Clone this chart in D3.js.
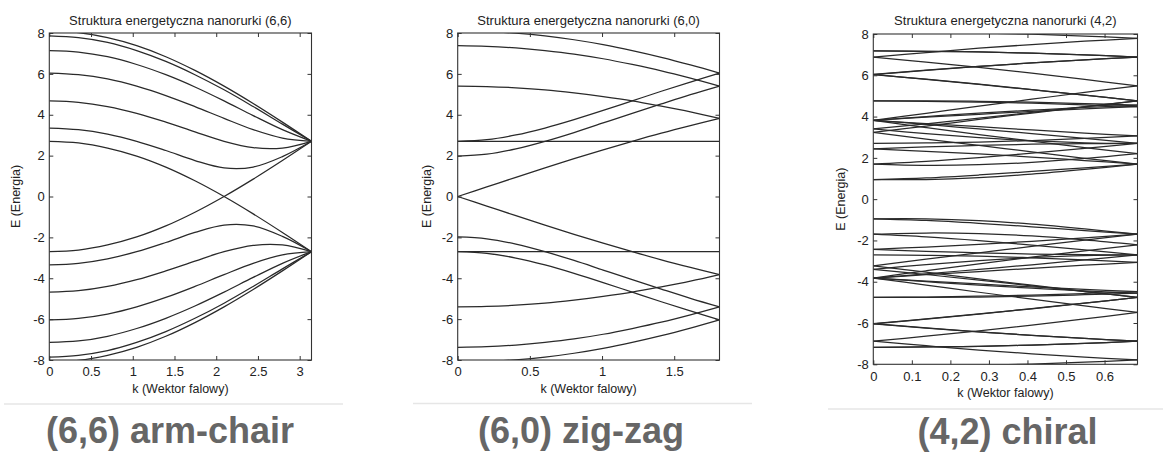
<!DOCTYPE html>
<html>
<head>
<meta charset="utf-8">
<script src="https://cdn.jsdelivr.net/npm/d3@7"></script>
<style>
    body { margin: 0; background: #fff; }
    svg { display: block; }
</style>
</head>
<body>
<div id="chart"></div>
<script>
// energy bands (positive half, eV); the lower half is the mirror image
const armK = [0, 0.349, 0.698, 1.047, 1.396, 1.745, 2.094, 2.443, 2.793, 3.1416];
const armBands = [
    [8.10, 8.02, 7.77, 7.38, 6.84, 6.17, 5.40, 4.55, 3.64, 2.70],
    [7.86, 7.77, 7.54, 7.14, 6.61, 5.96, 5.22, 4.40, 3.54, 2.70],
    [7.14, 7.07, 6.84, 6.46, 5.96, 5.36, 4.68, 3.96, 3.27, 2.70],
    [6.04, 5.96, 5.75, 5.40, 4.94, 4.40, 3.82, 3.27, 2.86, 2.70],
    [4.68, 4.61, 4.40, 4.07, 3.64, 3.16, 2.70, 2.39, 2.37, 2.70],
    [3.35, 3.27, 3.05, 2.70, 2.25, 1.76, 1.40, 1.44, 1.95, 2.70],
    [2.70, 2.62, 2.37, 1.98, 1.44, 0.77, 0.00, -0.85, -1.76, -2.70]
];

const zigK = [0, 0.2015, 0.4031, 0.6046, 0.8061, 1.0077, 1.2092, 1.4107, 1.6122, 1.8138];
const zigBands = [
    [8.10, 8.07, 7.99, 7.86, 7.67, 7.43, 7.14, 6.81, 6.44, 6.04],
    [7.38, 7.35, 7.27, 7.14, 6.97, 6.74, 6.46, 6.15, 5.79, 5.40],
    [5.40, 5.38, 5.32, 5.22, 5.07, 4.89, 4.68, 4.42, 4.14, 3.82],
    [2.70, 2.70, 2.70, 2.70, 2.70, 2.70, 2.70, 2.70, 2.70, 2.70],
    [0.00, 0.47, 0.94, 1.40, 1.85, 2.28, 2.70, 3.10, 3.47, 3.82],
    [1.98, 2.07, 2.33, 2.70, 3.13, 3.60, 4.07, 4.53, 4.98, 5.40],
    [2.70, 2.78, 3.01, 3.35, 3.76, 4.21, 4.68, 5.15, 5.60, 6.04]
];

const chiK = [0, 0.1371, 0.2742, 0.4113, 0.5484, 0.6855];
const chiBands = [
    [8.10, 8.09, 8.05, 7.99, 7.90, 7.79],
    [7.18, 7.16, 7.13, 7.07, 6.99, 6.88],
    [4.76, 4.74, 4.70, 4.65, 4.57, 4.48],
    [2.43, 2.32, 2.19, 2.04, 1.87, 1.70],
    [3.82, 3.62, 3.40, 3.18, 2.94, 2.70],
    [6.03, 5.80, 5.56, 5.30, 5.04, 4.76],
    [6.88, 6.64, 6.38, 6.10, 5.80, 5.49],
    [6.04, 5.81, 5.57, 5.31, 5.04, 4.76],
    [3.82, 3.66, 3.51, 3.35, 3.20, 3.06],
    [0.95, 0.95, 1.04, 1.21, 1.44, 1.70],
    [1.70, 1.64, 1.67, 1.78, 1.97, 2.21],
    [3.40, 3.17, 2.98, 2.83, 2.73, 2.70],
    [3.82, 3.47, 3.13, 2.81, 2.50, 2.21],
    [3.23, 2.91, 2.60, 2.29, 1.98, 1.70],
    [2.70, 2.72, 2.76, 2.84, 2.94, 3.06],
    [3.23, 3.54, 3.86, 4.17, 4.47, 4.76],
    [3.82, 4.16, 4.51, 4.84, 5.17, 5.49],
    [3.40, 3.65, 3.92, 4.20, 4.48, 4.76],
    [1.70, 1.83, 2.01, 2.23, 2.46, 2.70],
    [0.95, 1.03, 1.17, 1.34, 1.52, 1.70],
    [3.82, 3.97, 4.11, 4.25, 4.37, 4.48],
    [6.04, 6.25, 6.43, 6.60, 6.75, 6.88],
    [6.88, 7.10, 7.31, 7.49, 7.65, 7.79],
    [6.03, 6.24, 6.43, 6.60, 6.75, 6.88],
    [3.82, 4.00, 4.17, 4.31, 4.44, 4.55],
    [2.43, 2.53, 2.60, 2.66, 2.69, 2.70],
    [4.76, 4.76, 4.74, 4.70, 4.63, 4.55],
    [7.18, 7.16, 7.13, 7.07, 6.99, 6.88]
];

const kMax = [3.1416, 1.8138, 0.6855];
const eTicks = [-8, -6, -4, -2, 0, 2, 4, 6, 8];
const armTicks = [0, 0.5, 1, 1.5, 2, 2.5, 3];
const zigTicks = [0, 0.5, 1, 1.5];
const chiTicks = [0, 0.1, 0.2, 0.3, 0.4, 0.5, 0.6];
const titles = ['Struktura energetyczna nanorurki (6,6)', 'Struktura energetyczna nanorurki (6,0)', 'Struktura energetyczna nanorurki (4,2)'];
const captions = ['(6,6) arm-chair', '(6,0) zig-zag', '(4,2) chiral'];

const font = '"Liberation Sans", Arial, sans-serif';

// placement of the three pictures
const panels = [
    { k: armK, bands: armBands, ticks: armTicks, x0: 49.3, x1: 311.5, y0: 33, y1: 360, yl: 19.5, capX: 170, capY: 443, sepY: 404, sepX: [4, 343] },
    { k: zigK, bands: zigBands, ticks: zigTicks, x0: 457.7, x1: 719.5, y0: 33, y1: 360, yl: 431, capX: 581, capY: 443, sepY: 403.5, sepX: [413, 752] },
    { k: chiK, bands: chiBands, ticks: chiTicks, x0: 873.3, x1: 1137.5, y0: 34, y1: 364.3, yl: 845, capX: 1007.5, capY: 444, sepY: 409, sepX: [828, 1163] }
];

const svg = d3.select('#chart')
    .append('svg')
    .attr('width', 1163)
    .attr('height', 452);

panels.forEach((p, i) => {
    const x = d3.scaleLinear().domain([0, kMax[i]]).range([p.x0, p.x1]);
    const y = d3.scaleLinear().domain([-8, 8]).range([p.y1, p.y0]);

    // faint frame line under each picture
    svg.append('line')
        .attr('x1', p.sepX[0]).attr('x2', p.sepX[1])
        .attr('y1', p.sepY).attr('y2', p.sepY)
        .attr('stroke', '#e6e6e6')
        .attr('stroke-width', 1.5);

    const clipId = 'clip' + i;
    svg.append('clipPath').attr('id', clipId)
        .append('rect')
        .attr('x', p.x0).attr('y', p.y0)
        .attr('width', p.x1 - p.x0).attr('height', p.y1 - p.y0);

    const line = d3.line()
        .x((d, j) => x(p.k[j]))
        .y(d => y(d))
        .curve(d3.curveCatmullRom.alpha(0.5));

    const curves = p.bands.concat(p.bands.map(b => b.map(v => -v)));

    svg.append('g')
        .attr('clip-path', `url(#${clipId})`)
        .selectAll('path')
        .data(curves)
        .enter()
        .append('path')
        .attr('d', line)
        .attr('fill', 'none')
        .attr('stroke', '#2a2a2a')
        .attr('stroke-width', 1.25);

    // axes, MATLAB style: ticks point inward on all four sides
    const left = svg.append('g')
        .attr('transform', `translate(${p.x0},0)`)
        .call(d3.axisLeft(y).tickValues(eTicks).tickSize(-4).tickPadding(4.5).tickFormat(d => String(d)));
    const bottom = svg.append('g')
        .attr('transform', `translate(0,${p.y1})`)
        .call(d3.axisBottom(x).tickValues(p.ticks).tickSize(-4).tickPadding(7).tickFormat(d => String(d)));
    const right = svg.append('g')
        .attr('transform', `translate(${p.x1},0)`)
        .call(d3.axisRight(y).tickValues(eTicks).tickSize(-4).tickFormat(''));
    const top = svg.append('g')
        .attr('transform', `translate(0,${p.y0})`)
        .call(d3.axisTop(x).tickValues(p.ticks).tickSize(-4).tickFormat(''));

    [left, bottom, right, top].forEach(a => {
        a.select('.domain').remove();
        a.selectAll('line').attr('stroke', '#333');
        a.selectAll('text')
            .attr('font-family', font)
            .attr('font-size', 13)
            .attr('fill', '#222');
    });

    svg.append('rect')
        .attr('x', p.x0).attr('y', p.y0)
        .attr('width', p.x1 - p.x0).attr('height', p.y1 - p.y0)
        .attr('fill', 'none')
        .attr('stroke', '#333')
        .attr('stroke-width', 1.1);

    const cx = (p.x0 + p.x1) / 2;

    svg.append('text')
        .attr('x', cx).attr('y', 24.5)
        .attr('text-anchor', 'middle')
        .attr('font-family', font).attr('font-size', 13)
        .attr('fill', '#222')
        .text(titles[i]);

    svg.append('text')
        .attr('x', cx).attr('y', p.y1 + 32.5)
        .attr('text-anchor', 'middle')
        .attr('font-family', font).attr('font-size', 12.5)
        .attr('fill', '#222')
        .text('k (Wektor falowy)');

    svg.append('text')
        .attr('transform', `translate(${p.yl},${(p.y0 + p.y1) / 2}) rotate(-90)`)
        .attr('text-anchor', 'middle')
        .attr('font-family', font).attr('font-size', 12.5)
        .attr('fill', '#222')
        .text('E (Energia)');

    svg.append('text')
        .attr('x', p.capX).attr('y', p.capY)
        .attr('text-anchor', 'middle')
        .attr('font-family', font).attr('font-size', 36)
        .attr('font-weight', 'bold')
        .attr('fill', '#666')
        .text(captions[i]);
});
</script>
</body>
</html>
